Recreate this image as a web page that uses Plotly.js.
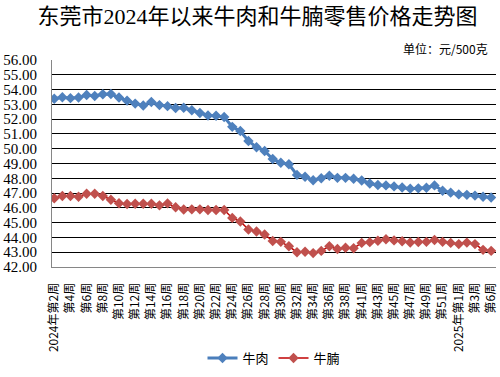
<!DOCTYPE html>
<html>
<head>
<meta charset="utf-8">
<script src="https://cdn.plot.ly/plotly-3.0.1.min.js"></script>
<style>html,body{margin:0;padding:0;background:#fff;}#chart{width:500px;height:377px;}</style>
</head>
<body>
<div id="chart"></div>
<script>
// Week categories (week 40 of 2024 and week 5 of 2025 absent)
const categories = [
  "2024年第2周","第3周","第4周","第5周","第6周","第7周","第8周","第9周","第10周","第11周",
  "第12周","第13周","第14周","第15周","第16周","第17周","第18周","第19周","第20周","第21周",
  "第22周","第23周","第24周","第25周","第26周","第27周","第28周","第29周","第30周","第31周",
  "第32周","第33周","第34周","第35周","第36周","第37周","第38周","第39周","第41周","第42周",
  "第43周","第44周","第45周","第46周","第47周","第48周","第49周","第50周","第51周","第52周",
  "2025年第1周","第2周","第3周","第4周","第6周"
];
const beef = [
  53.38,53.48,53.42,53.46,53.63,53.57,53.68,53.70,53.46,53.25,
  53.05,52.92,53.16,52.95,52.88,52.75,52.77,52.60,52.42,52.25,
  52.23,52.14,51.48,51.20,50.52,50.10,49.85,49.30,49.05,48.95,
  48.23,48.10,47.87,48.00,48.17,48.03,48.03,47.97,47.85,47.65,
  47.55,47.52,47.45,47.38,47.30,47.32,47.36,47.52,47.16,47.03,
  46.91,46.88,46.83,46.75,46.70
];
const brisket = [
  46.65,46.80,46.80,46.75,46.95,46.95,46.80,46.55,46.31,46.26,
  46.28,46.28,46.28,46.17,46.30,46.04,45.89,45.90,45.90,45.86,
  45.86,45.86,45.32,45.08,44.54,44.40,44.20,43.76,43.70,43.40,
  43.00,43.03,42.94,43.09,43.40,43.22,43.30,43.27,43.63,43.68,
  43.78,43.88,43.80,43.74,43.66,43.69,43.70,43.83,43.70,43.63,
  43.55,43.65,43.55,43.16,43.09
];
const seriesNames = ["牛肉","牛腩"];
const yTicks = [42,43,44,45,46,47,48,49,50,51,52,53,54,55,56];

const idx = categories.map((c,i)=>i);
const tickIdx = idx.filter(i=>i%2===0);
const tickText = tickIdx.map(i=>categories[i]);

const traces = [
  {x: idx, y: beef, name: seriesNames[0], type:'scatter', mode:'lines+markers',
   text: categories, hovertemplate:'%{text}: %{y:.2f}<extra></extra>',
   line:{color:'#4A7EBB', width:3}, marker:{symbol:'diamond', size:8, color:'#4F81BD'}},
  {x: idx, y: brisket, name: seriesNames[1], type:'scatter', mode:'lines+markers',
   text: categories, hovertemplate:'%{text}: %{y:.2f}<extra></extra>',
   line:{color:'#C00000', width:1.5}, marker:{symbol:'diamond', size:8, color:'#C0504D'}}
];

const layout = {
  width:500, height:377,
  margin:{l:52, r:4, t:60, b:101, pad:0},
  paper_bgcolor:'#fff', plot_bgcolor:'#fff',
  showlegend:true,
  title:{text:'东莞市2024年以来牛肉和牛腩零售价格走势图', x:0.515, xanchor:'center', y:0.957, yanchor:'middle',
         font:{family:'"Liberation Serif","Noto Sans CJK SC",serif', size:22, color:'#000'}},
  xaxis:{range:[-0.28, 54.6], tickmode:'array', tickvals:tickIdx, ticktext:tickText,
         tickangle:-90, showgrid:false, zeroline:false, showline:true, linecolor:'#868686', linewidth:1,
         ticks:'', ticklabelstandoff:10,
         tickfont:{family:'"Noto Sans CJK SC",sans-serif', size:12, color:'#000'}},
  yaxis:{range:[42,56], tickmode:'array', tickvals:yTicks, ticktext:yTicks.map(v=>v.toFixed(2)),
         showgrid:true, gridcolor:'#000', gridwidth:1, zeroline:false,
         showline:true, linecolor:'#868686', linewidth:1, ticks:'', ticklabelstandoff:11,
         tickfont:{family:'"Liberation Serif",serif', size:15, color:'#000'}},
  legend:{orientation:'h', x:0.5, xanchor:'center', y:-0.44, yanchor:'middle',
          font:{family:'"Noto Sans CJK SC",sans-serif', size:13, color:'#000'}, itemwidth:30},
  annotations:[{text:'单位：元/500克', xref:'paper', yref:'paper', x:0.986, xanchor:'right', y:1.057, yanchor:'middle',
                showarrow:false, font:{family:'"Noto Sans CJK SC",sans-serif', size:12, color:'#000'}}]
};

Plotly.newPlot('chart', traces, layout, {displayModeBar:false, staticPlot:true});
</script>
</body>
</html>
